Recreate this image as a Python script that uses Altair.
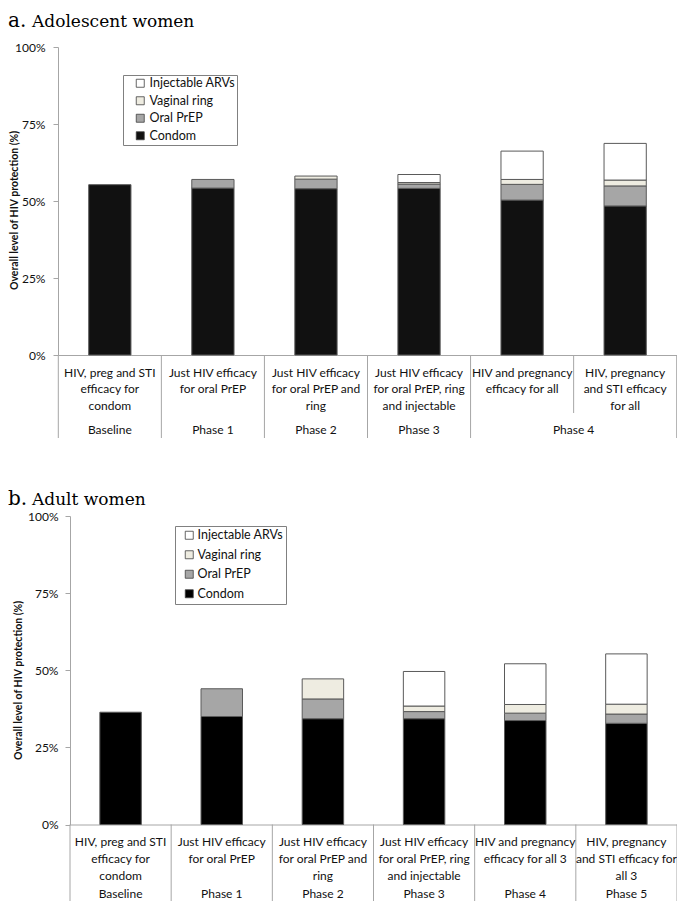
import altair as alt
import pandas as pd

# ---------------- data ----------------
methods_stack = ["Condom", "Oral PrEP", "Vaginal ring", "Injectable ARVs"]   # bottom -> top
legend_order = ["Injectable ARVs", "Vaginal ring", "Oral PrEP", "Condom"]

a_categories = [
    "HIV, preg and STI\nefficacy for\ncondom",
    "Just HIV efficacy\nfor oral PrEP",
    "Just HIV efficacy\nfor oral PrEP and\nring",
    "Just HIV efficacy\nfor oral PrEP, ring\nand injectable",
    "HIV and pregnancy\nefficacy for all",
    "HIV, pregnancy\nand STI efficacy\nfor all",
]
a_phases = ["Baseline", "Phase 1", "Phase 2", "Phase 3", "Phase 4"]
a_phase_start = [0, 1, 2, 3, 4]
a_condom = [55.3, 54.2, 54.0, 54.1, 50.3, 48.4]
a_prep = [0.0, 2.8, 3.1, 1.4, 5.1, 6.5]
a_ring = [0.0, 0.0, 1.0, 0.5, 1.6, 1.9]
a_inj = [0.0, 0.0, 0.0, 2.6, 9.2, 11.9]

b_categories = [
    "HIV, preg and STI\nefficacy for\ncondom",
    "Just HIV efficacy\nfor oral PrEP",
    "Just HIV efficacy\nfor oral PrEP and\nring",
    "Just HIV efficacy\nfor oral PrEP, ring\nand injectable",
    "HIV and pregnancy\nefficacy for all 3",
    "HIV, pregnancy\nand STI efficacy for\nall 3",
]
b_phases = ["Baseline", "Phase 1", "Phase 2", "Phase 3", "Phase 4", "Phase 5"]
b_phase_start = [0, 1, 2, 3, 4, 5]
b_condom = [36.4, 35.0, 34.3, 34.3, 33.7, 32.8]
b_prep = [0.0, 9.0, 6.4, 2.3, 2.4, 3.0]
b_ring = [0.0, 0.0, 6.5, 1.8, 2.8, 3.2]
b_inj = [0.0, 0.0, 0.0, 11.2, 13.2, 16.3]

y_ticks = [0, 25, 50, 75, 100]
y_title = "Overall level of HIV protection (%)"

# ---------------- layout / style ----------------
W, H, PADL = 619, 893, 50
LABEL_FONT = "Lato"
AXIS_GRAY = "#a6a6a6"


def long_df(cats, series):
    rows = []
    for m, vals in zip(methods_stack, series):
        for c, v in zip(cats, vals):
            if v > 0:
                rows.append({"cat": c, "method": m, "value": v})
    return pd.DataFrame(rows)


def panel(cats, phases, phase_start, series, colors, y0, y100, xr,
          legend_xy, legend_pad, sym_off, lab_off, row_pad, nbsp,
          yaxis_offset, label_pad, ytitle_xy,
          sep_full_end, sep_short_end, label_y, phase_y,
          letter, title, title_y):
    xs = alt.Scale(domain=cats, range=xr, paddingInner=0, paddingOuter=0)
    ys = alt.Scale(domain=[0, 100], range=[y0, y100], nice=False)
    band = (xr[1] - xr[0]) / len(cats)
    df = long_df(cats, series)
    bars = alt.Chart(df).transform_calculate(
        ord="indexof(['Condom','Oral PrEP','Vaginal ring','Injectable ARVs'], datum.method)"
    ).mark_bar(width=alt.RelativeBandSize(0.41), stroke="#5a5a5a", strokeWidth=1).encode(
        x=alt.X("cat:N", scale=xs, sort=cats,
                axis=alt.Axis(orient="bottom", offset=-(H - y0), labels=False, ticks=False,
                              domainColor=AXIS_GRAY, title=None, grid=False)),
        y=alt.Y("value:Q", stack="zero", scale=ys,
                axis=alt.Axis(orient="left", offset=yaxis_offset, values=y_ticks,
                              labelExpr="datum.value + '%'", grid=False,
                              domainColor=AXIS_GRAY, tickColor=AXIS_GRAY, tickSize=5,
                              labelPadding=label_pad, labelFont=LABEL_FONT, labelFontSize=12,
                              labelColor="#111111", title=y_title, titleFont=LABEL_FONT,
                              titleFontSize=10.5, titleFontWeight="bold", titleColor="#111111",
                              titleAngle=270, titleX=ytitle_xy[0], titleY=ytitle_xy[1],
                              titleBaseline="middle", titleAlign="center")),
        color=alt.Color("method:N", scale=alt.Scale(domain=legend_order, range=colors),
                        legend=alt.Legend(orient="none", legendX=legend_xy[0], legendY=legend_xy[1],
                                          title=None, symbolType="square", symbolSize=64,
                                          symbolStrokeColor="#404040", symbolStrokeWidth=0.8,
                                          labelFont=LABEL_FONT, labelFontSize=12.5, labelColor="#111111",
                                          labelExpr="datum.label + '" + "\u00a0" * nbsp + "'",
                                          strokeColor="#808080", fillColor="white",
                                          padding=legend_pad, rowPadding=row_pad,
                                          symbolOffset=sym_off, labelOffset=lab_off)),
        order=alt.Order("ord:Q", sort="ascending"),
    )

    catdf = pd.DataFrame({"cat": cats, "idx": list(range(len(cats)))})
    starts = set(phase_start)
    full_df = catdf[catdf["idx"].isin(starts)]
    short_df = catdf[~catdf["idx"].isin(starts)]
    last_df = catdf.iloc[[-1]]

    def edge(d, bp, yend):
        return alt.Chart(d).mark_rule(color=AXIS_GRAY, strokeWidth=1).encode(
            x=alt.X("cat:N", scale=xs, sort=cats, axis=None, bandPosition=bp),
            y=alt.value(y0), y2=alt.value(yend))

    layers = [bars, edge(full_df, 0, sep_full_end), edge(last_df, 1, sep_full_end)]
    if len(short_df):
        layers.append(edge(short_df, 0, sep_short_end))

    labels = alt.Chart(catdf).mark_text(
        lineBreak="\n", align="center", baseline="top", lineHeight=16.8,
        font=LABEL_FONT, fontSize=12, color="#111111").encode(
        x=alt.X("cat:N", scale=xs, sort=cats, axis=None), y=alt.value(label_y), text="cat:N")
    layers.append(labels)

    ends = phase_start[1:] + [len(cats)]
    single = [(p, cats[s]) for p, s, e in zip(phases, phase_start, ends) if e - s == 1]
    double = [(p, cats[s]) for p, s, e in zip(phases, phase_start, ends) if e - s == 2]
    for group, dx in ((single, 0), (double, band / 2)):
        if group:
            pdf = pd.DataFrame({"phase": [g[0] for g in group], "cat": [g[1] for g in group]})
            layers.append(alt.Chart(pdf).mark_text(
                align="center", baseline="middle", font=LABEL_FONT, fontSize=12, color="#111111",
                dx=dx).encode(
                x=alt.X("cat:N", scale=xs, sort=cats, axis=None),
                y=alt.value(phase_y), text="phase:N"))

    tdf = pd.DataFrame({"letter": [letter], "title": [title]})
    layers.append(alt.Chart(tdf).mark_text(
        align="left", baseline="alphabetic", font="DejaVu Serif", fontSize=20, color="#000000").encode(
        x=alt.value(-PADL), y=alt.value(title_y), text="letter:N"))
    layers.append(alt.Chart(tdf).mark_text(
        align="left", baseline="alphabetic", font="DejaVu Serif", fontSize=17, color="#000000").encode(
        x=alt.value(-PADL + 24), y=alt.value(title_y), text="title:N"))
    return layers


top_layers = panel(
    a_categories, a_phases, a_phase_start, [a_condom, a_prep, a_ring, a_inj],
    ["#ffffff", "#eeece1", "#a6a6a6", "#111111"],
    y0=347, y100=39, xr=[0.3, 618.7],
    legend_xy=(65, 67), legend_pad=2, sym_off=9, lab_off=3, row_pad=4.5, nbsp=9,
    yaxis_offset=0, label_pad=8, ytitle_xy=(-44, 202),
    sep_full_end=430, sep_short_end=405, label_y=359.5, phase_y=422,
    letter="a.", title="Adolescent women", title_y=19)

bottom_layers = panel(
    b_categories, b_phases, b_phase_start, [b_condom, b_prep, b_ring, b_inj],
    ["#ffffff", "#eeece1", "#a6a6a6", "#000000"],
    y0=816.5, y100=508, xr=[12, 619],
    legend_xy=(117, 518), legend_pad=3, sym_off=5, lab_off=2, row_pad=6.5, nbsp=2,
    yaxis_offset=-12, label_pad=7, ytitle_xy=(-52, 672),
    sep_full_end=H, sep_short_end=H, label_y=829, phase_y=886,
    letter="b.", title="Adult women", title_y=497)

chart = alt.layer(*(top_layers + bottom_layers)).resolve_scale(
    x="independent", y="independent", color="independent"
).properties(
    width=W, height=H,
    autosize=alt.AutoSizeParams(type="none"),
    padding={"left": PADL, "top": 0, "right": 0, "bottom": 0},
).configure_view(stroke=None)

chart.save("out.html", embed_options={"renderer": "svg", "actions": False})
